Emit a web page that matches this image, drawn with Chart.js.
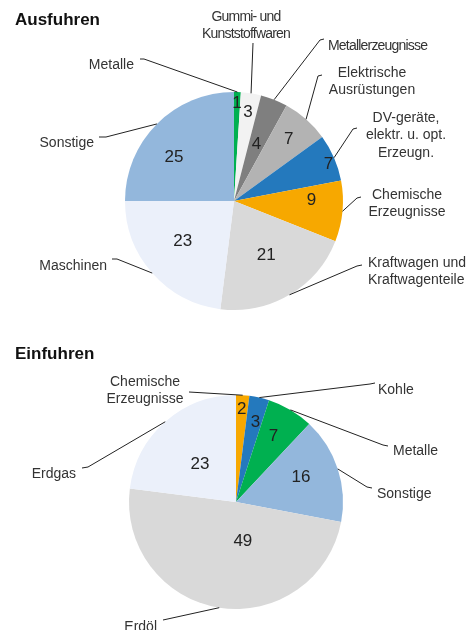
<!DOCTYPE html>
<html>
<head>
<meta charset="utf-8">
<script src="https://cdn.jsdelivr.net/npm/chart.js@4"></script>
<style>
  html, body { margin: 0; padding: 0; background: #fff; }
  #wrap { position: relative; width: 473px; height: 630px; overflow: hidden; }
  #wrap canvas { position: absolute; left: 0; top: 0; }
</style>
</head>
<body>
<div id="wrap">
  <canvas id="ausfuhren" width="473" height="630"></canvas>
  <canvas id="einfuhren" width="473" height="630"></canvas>
</div>
<script>
// Ausfuhren (Anteile in %)
var ausLabels = [
  ['Metalle'],
  ['Gummi- und', 'Kunststoffwaren'],
  ['Metallerzeugnisse'],
  ['Elektrische', 'Ausrüstungen'],
  ['DV-geräte,', 'elektr. u. opt.', 'Erzeugn.'],
  ['Chemische', 'Erzeugnisse'],
  ['Kraftwagen und', 'Kraftwagenteile'],
  ['Maschinen'],
  ['Sonstige']
];
var ausWerte = [1, 3, 4, 7, 7, 9, 21, 23, 25];
var ausFarben = ['#00b050', '#f2f2f2', '#7f7f7f', '#b3b3b3', '#2479bd', '#f7a800', '#d9d9d9', '#ebf0fa', '#93b7dc'];

// Einfuhren (Anteile in %)
var einLabels = [
  ['Chemische', 'Erzeugnisse'],
  ['Kohle'],
  ['Metalle'],
  ['Sonstige'],
  ['Erdöl'],
  ['Erdgas']
];
var einWerte = [2, 3, 7, 16, 49, 23];
var einFarben = ['#f7a800', '#2479bd', '#00b050', '#93b7dc', '#d9d9d9', '#ebf0fa'];

// Lage der Beschriftungen (Seitenkoordinaten)
var ausLayout = [
  { frac: 0.90, nudge: 0,  elbow: [144, 59], tick: [140, 59], text: [134, 65], align: 'right' },
  { frac: 0.82, nudge: 0,  elbow: [253, 43], tick: null, text: [246, 17], align: 'center', narrow: true },
  { frac: 0.56, nudge: 0,  elbow: [320, 40], tick: [324, 39], text: [328, 46], align: 'left', narrow: true },
  { frac: 0.76, nudge: 0,  elbow: [318, 76], tick: [322, 75], text: [372, 73], align: 'center' },
  { frac: 0.93, nudge: 2,  elbow: [353, 129], tick: [357, 128], text: [406, 118], align: 'center' },
  { frac: 0.71, nudge: -6, elbow: [357, 198], tick: [361, 197], text: [407, 195], align: 'center' },
  { frac: 0.58, nudge: 0,  elbow: [357, 266], tick: [362, 265], text: [368, 263], align: 'left' },
  { frac: 0.60, nudge: 3,  elbow: [117, 259], tick: [112, 259], text: [107, 266], align: 'right' },
  { frac: 0.68, nudge: -9, elbow: [106, 137], tick: [99, 137], text: [94, 143], align: 'right' }
];
var einLayout = [
  { frac: 0.87, nudge: 0,   elbow: [189, 392], tick: null, text: [145, 382], align: 'center' },
  { frac: 0.77, nudge: 1,   elbow: [370, 384], tick: [375, 383], text: [378, 390], align: 'left' },
  { frac: 0.71, nudge: -1,  elbow: [383, 445], tick: [388, 446], text: [393, 451], align: 'left' },
  { frac: 0.65, nudge: -3,  elbow: [367, 487], tick: [372, 488], text: [377, 494], align: 'left' },
  { frac: 0.37, nudge: -19, elbow: [163, 620], tick: null, text: [157, 627], align: 'right' },
  { frac: 0.49, nudge: -2,  elbow: [88, 467], tick: [82, 468], text: [76, 474], align: 'right' }
];

var schrift = '"Liberation Sans", Arial, sans-serif';

var beschriftung = {
  id: 'beschriftung',
  afterDatasetsDraw: function (chart, args, opts) {
    var ctx = chart.ctx;
    var meta = chart.getDatasetMeta(0);
    var werte = chart.data.datasets[0].data;
    ctx.save();

    // Titel
    ctx.font = 'bold 17px ' + schrift;
    ctx.fillStyle = '#111';
    ctx.textAlign = 'left';
    ctx.textBaseline = 'middle';
    ctx.fillText(opts.titel, opts.titelPos[0], opts.titelPos[1]);

    meta.data.forEach(function (arc, i) {
      var p = arc.getProps(['x', 'y', 'startAngle', 'endAngle', 'outerRadius'], true);
      var mid = (p.startAngle + p.endAngle) / 2;
      var lay = opts.layout[i];

      // Wert im Segment
      var a = mid + lay.nudge * Math.PI / 180;
      var r = p.outerRadius * lay.frac;
      ctx.font = '17px ' + schrift;
      ctx.fillStyle = '#222';
      ctx.textAlign = 'center';
      ctx.textBaseline = 'middle';
      ctx.fillText(String(werte[i]), p.x + Math.cos(a) * r, p.y + Math.sin(a) * r);

      // Fuehrungslinie
      ctx.strokeStyle = '#222';
      ctx.lineWidth = 1;
      ctx.beginPath();
      ctx.moveTo(p.x + Math.cos(mid) * p.outerRadius, p.y + Math.sin(mid) * p.outerRadius);
      ctx.lineTo(lay.elbow[0], lay.elbow[1]);
      if (lay.tick) ctx.lineTo(lay.tick[0], lay.tick[1]);
      ctx.stroke();

      // Kategorie
      var zeilen = chart.data.labels[i];
      ctx.font = '14px ' + schrift;
      ctx.letterSpacing = lay.narrow ? '-0.8px' : '0px';
      ctx.fillStyle = '#333';
      ctx.textAlign = lay.align;
      zeilen.forEach(function (z, k) {
        ctx.fillText(z, lay.text[0], lay.text[1] + k * 17.5);
      });
      ctx.letterSpacing = '0px';
    });
    ctx.restore();
  }
};

function kreis(id, labels, werte, farben, layout, titel, titelPos, padding) {
  var ctx = document.getElementById(id).getContext('2d');
  return new Chart(ctx, {
    type: 'pie',
    data: {
      labels: labels,
      datasets: [{
        data: werte,
        backgroundColor: farben,
        borderWidth: 0
      }]
    },
    options: {
      responsive: false,
      animation: false,
      events: [],
      layout: { padding: padding },
      plugins: {
        legend: { display: false },
        tooltip: { enabled: false },
        beschriftung: { layout: layout, titel: titel, titelPos: titelPos }
      }
    },
    plugins: [beschriftung]
  });
}

kreis('ausfuhren', ausLabels, ausWerte, ausFarben, ausLayout, 'Ausfuhren', [15, 20],
  { left: 125, right: 130, top: 92, bottom: 320 });
kreis('einfuhren', einLabels, einWerte, einFarben, einLayout, 'Einfuhren', [15, 354],
  { left: 129, right: 130, top: 395, bottom: 21 });
</script>
</body>
</html>
